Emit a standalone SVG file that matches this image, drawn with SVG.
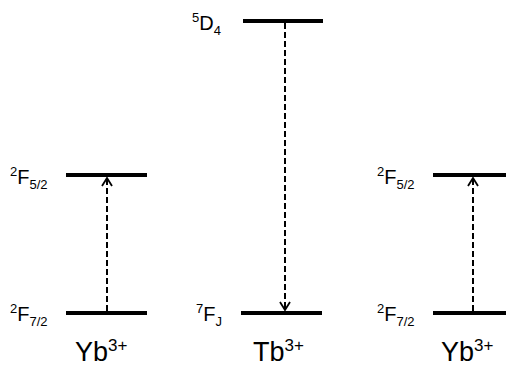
<svg xmlns="http://www.w3.org/2000/svg" width="506" height="371" viewBox="0 0 506 371">
<defs>
<style>
.lvl{stroke:#000;stroke-width:4;fill:none}
.tr{stroke:#000;stroke-width:2;stroke-dasharray:6,3;fill:none}
.lb{font-family:"Liberation Sans",Arial,sans-serif;font-size:20px;fill:#000}
.s{font-size:13px}
.ion{font-family:"Liberation Sans",Arial,sans-serif;font-size:27px;fill:#000}
.ion .s{font-size:17px}
</style>
<marker id="ah" viewBox="0 0 10 12" refX="9" refY="6" markerWidth="10" markerHeight="12" markerUnits="userSpaceOnUse" orient="auto">
<path d="M1,1 L9,6 L1,11" fill="none" stroke="#000" stroke-width="1.8"/>
</marker>
</defs>
<rect width="506" height="371" fill="#fff"/>
<g id="yb-left">
<line class="lvl" x1="66" y1="175" x2="147" y2="175"/>
<line class="lvl" x1="66" y1="313" x2="147" y2="313"/>
<text class="lb" x="10" y="184"><tspan class="s" dy="-8">2</tspan><tspan dy="8">F</tspan><tspan class="s" dy="5">5/2</tspan></text>
<text class="lb" x="10" y="321"><tspan class="s" dy="-8">2</tspan><tspan dy="8">F</tspan><tspan class="s" dy="5">7/2</tspan></text>
<text class="ion" x="75" y="361">Yb<tspan class="s" dy="-10">3+</tspan></text>
</g>
<g id="tb">
<line class="lvl" x1="243" y1="21" x2="323" y2="21"/>
<line class="lvl" x1="241" y1="313" x2="322" y2="313"/>
<text class="lb" x="192" y="30"><tspan class="s" dy="-8">5</tspan><tspan dy="8">D</tspan><tspan class="s" dy="5">4</tspan></text>
<text class="lb" x="196" y="321"><tspan class="s" dy="-8">7</tspan><tspan dy="8">F</tspan><tspan class="s" dy="5">J</tspan></text>
<text class="ion" x="253" y="361">Tb<tspan class="s" dy="-10">3+</tspan></text>
</g>
<g id="yb-right">
<line class="lvl" x1="433" y1="175" x2="506" y2="175"/>
<line class="lvl" x1="433" y1="313" x2="506" y2="313"/>
<text class="lb" x="377" y="184"><tspan class="s" dy="-8">2</tspan><tspan dy="8">F</tspan><tspan class="s" dy="5">5/2</tspan></text>
<text class="lb" x="377" y="321"><tspan class="s" dy="-8">2</tspan><tspan dy="8">F</tspan><tspan class="s" dy="5">7/2</tspan></text>
<text class="ion" x="441" y="361">Yb<tspan class="s" dy="-10">3+</tspan></text>
</g>
<g id="connectors">
<line class="tr" x1="107" y1="311" x2="107" y2="178" marker-end="url(#ah)"/>
<line class="tr" x1="285" y1="23" x2="285" y2="310" marker-end="url(#ah)"/>
<line class="tr" x1="473" y1="311" x2="473" y2="178" marker-end="url(#ah)"/>
</g>
</svg>
